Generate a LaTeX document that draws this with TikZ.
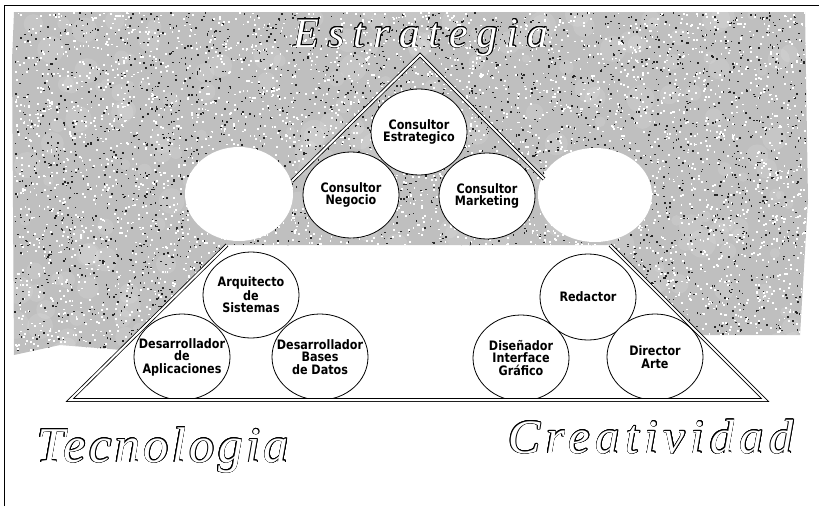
\documentclass[tikz,border=0pt]{standalone}
\usepackage{fontspec}
\usepackage[copies]{contour}
\usetikzlibrary{shapes.geometric}
\newfontfamily\rolefont{DejaVu Sans}[FakeStretch=0.86]
\newfontfamily\titlefont{Liberation Serif}
\contourlength{0.6pt}

\tikzset{
  role/.style={ellipse, draw, fill=white, line width=0.8pt, minimum width=96pt, minimum height=86pt,
    inner sep=-14pt, align=center, font=\rolefont\bfseries\fontsize{13}{12.5}\selectfont},
  banner/.style={anchor=base, text=white, font=\titlefont\itshape\fontsize{#1}{#1}\selectfont},
  rail/.style={double, double distance=2pt, line width=0.8pt},
}

\begin{document}
\begin{tikzpicture}[x=1pt,y=-1pt]
  \useasboundingbox (0,0) rectangle (819,506);
  % grainy backdrop
  \begin{scope}
    \clip (14,12) -- (805,12) -- (808,200) -- (800,335) -- (700,335) -- (610,245) -- (227,245)
      -- (122,350) -- (60,345) -- (14,355) -- (12,60) -- cycle;
    \fill[gray!50] (0,0) rectangle (819,506);
    \pgfmathsetseed{42}
    \foreach \k in {1,...,250}
      \fill[white,opacity=0.12] ({14+rnd*791},{12+rnd*338}) circle ({4+rnd*10});
    \foreach \k in {1,...,3500}
      \fill[black!85] ({14+rnd*791},{12+rnd*338}) rectangle ++(1.5,1.5);
    \foreach \k in {1,...,4500}
      \fill[white] ({14+rnd*791},{12+rnd*338}) rectangle ++(1.8,1.8);
  \end{scope}
  \fill[white] (239,194) ellipse (54 and 47);
  \fill[white] (595,195) ellipse (57 and 47);

  % frame
  \draw[line width=0.8pt] (4,506) -- (4,5) -- (819,5);

  % triangle
  \coordinate (apex) at (420,55);
  \coordinate (bl) at (70,400);
  \coordinate (br) at (765,400);
  \coordinate (tl) at (292,181);
  \coordinate (tr) at (544,179);
  \coordinate (ml) at (227,245);
  \coordinate (mr) at (610,245);

  \node[role] (est) at (419,132) {Consultor\\Estrategico};
  \node[role] (neg) at (351,195) {Consultor\\Negocio};
  \node[role] (mkt) at (487,196) {Consultor\\Marketing};
  \node[role] (arq) at (251,295) {Arquitecto\\de\\Sistemas};
  \node[role] (dap) at (182,357) {Desarrollador\\de\\Aplicaciones};
  \node[role] (dbd) at (320,357) {Desarrollador\\Bases\\de Datos};
  \node[role] (red) at (588,297) {Redactor};
  \node[role] (dis) at (521,358) {Diseñador\\Interface\\Gráfico};
  \node[role] (dir) at (655,357) {Director\\Arte};

  \draw[rail] (tl) -- (apex) -- (tr);
  \draw[rail] (ml) -- (bl) -- (br) -- (mr);

  \node[banner=42] (estr) at (421,47) {\addfontfeatures{LetterSpace=21}\contour{black}{Estrategia}};
  \node[banner=50] (tec) at (163,462) {\addfontfeatures{LetterSpace=7}\contour{black}{Tecnologia}};
  \node[banner=48] (cre) at (651,453) {\addfontfeatures{LetterSpace=12}\contour{black}{Creatividad}};
\end{tikzpicture}
\end{document}
